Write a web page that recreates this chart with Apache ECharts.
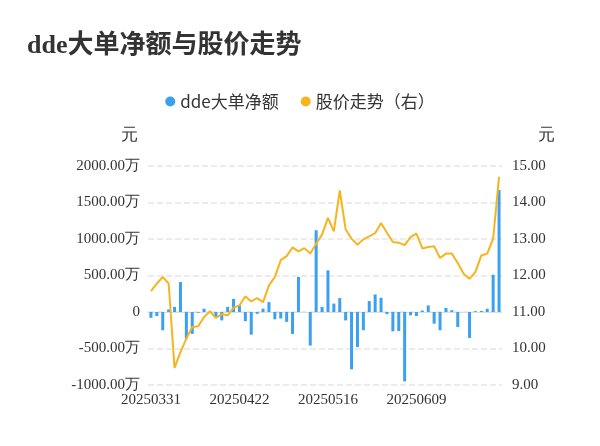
<!DOCTYPE html>
<html><head><meta charset="utf-8">
<script src="https://cdn.jsdelivr.net/npm/echarts@6/dist/echarts.min.js"></script>
<style>html,body{margin:0;padding:0;background:#fff}#c{width:600px;height:446px}</style>
</head><body><div id="c"></div>
<script>
const dates = ["20250331","20250401","20250402","20250403","20250407","20250408","20250409","20250410","20250411","20250414","20250415","20250416","20250417","20250418","20250421","20250422","20250423","20250424","20250425","20250428","20250429","20250430","20250506","20250507","20250508","20250509","20250512","20250513","20250514","20250515","20250516","20250519","20250520","20250521","20250522","20250523","20250526","20250527","20250528","20250529","20250530","20250603","20250604","20250605","20250606","20250609","20250610","20250611","20250612","20250613","20250616","20250617","20250618","20250619","20250620","20250623","20250624","20250625","20250626","20250627"];
const ddeValues = [-80,-55,-250,35,70,410,-365,-300,-10,45,-10,-70,-115,70,180,90,-125,-310,-25,45,135,-100,-90,-135,-300,480,0,-460,1120,70,570,115,190,-115,-785,-480,-250,150,240,195,-30,-265,-260,-950,-45,-55,20,90,-160,-250,55,25,-205,0,-355,10,15,45,510,1670];
const priceValues = [11.57,11.78,11.96,11.78,9.47,9.90,10.27,10.59,10.61,10.86,11.02,10.84,10.94,10.91,11.12,11.18,11.43,11.29,11.38,11.27,11.73,11.96,12.42,12.53,12.77,12.66,12.75,12.60,12.87,13.12,13.58,13.21,14.33,13.26,13.01,12.84,12.99,13.07,13.16,13.44,13.17,12.92,12.90,12.83,13.05,13.15,12.74,12.78,12.80,12.48,12.60,12.60,12.34,12.05,11.91,12.10,12.55,12.60,13.01,14.70];
const chart = echarts.init(document.getElementById('c'));
const axisText = {color:'#333',fontSize:15,fontFamily:'Liberation Serif'};
chart.setOption({
  animation:false,
  title:{text:'dde大单净额与股价走势',left:22,top:28,textStyle:{fontSize:26,fontWeight:'bold',color:'#333',fontFamily:'Liberation Serif, Noto Sans CJK SC'}},
  legend:{top:88,left:'center',itemWidth:10,itemHeight:10,itemGap:22,textStyle:{fontSize:17,color:'#333',fontFamily:'Noto Sans CJK SC'},
    data:[{name:'dde大单净额',icon:'circle'},{name:'股价走势（右）',icon:'circle'}]},
  grid:{left:148,right:98,top:166,bottom:61},
  xAxis:{type:'category',data:dates,axisTick:{show:false},axisLine:{lineStyle:{color:'#ddd'}},
    axisLabel:Object.assign({interval:14,margin:8},axisText)},
  yAxis:[
    {type:'value',min:-1000,max:2000,interval:500,name:'元',nameGap:22,nameTextStyle:{fontSize:17,color:'#333',align:'right',padding:[0,10,0,0]},
      axisLabel:Object.assign({formatter:v=>v===0?'0':v.toFixed(2)+'万'},axisText),
      splitLine:{lineStyle:{type:'dashed',color:'#e6e6e6',width:1.5}},axisLine:{show:false},axisTick:{show:false}},
    {type:'value',min:9,max:15,interval:1,name:'元',nameGap:22,nameTextStyle:{fontSize:17,color:'#333',align:'left',padding:[0,0,0,36]},
      axisLabel:Object.assign({formatter:v=>v.toFixed(2),margin:10},axisText),
      splitLine:{show:false},axisLine:{show:false},axisTick:{show:false}}
  ],
  series:[
    {name:'dde大单净额',type:'bar',data:ddeValues,barWidth:3,itemStyle:{color:'#3aa0ef'}},
    {name:'股价走势（右）',type:'line',yAxisIndex:1,data:priceValues,symbol:'none',lineStyle:{color:'#f6b51f',width:2},itemStyle:{color:'#f6b51f'}}
  ]
});
</script></body></html>
